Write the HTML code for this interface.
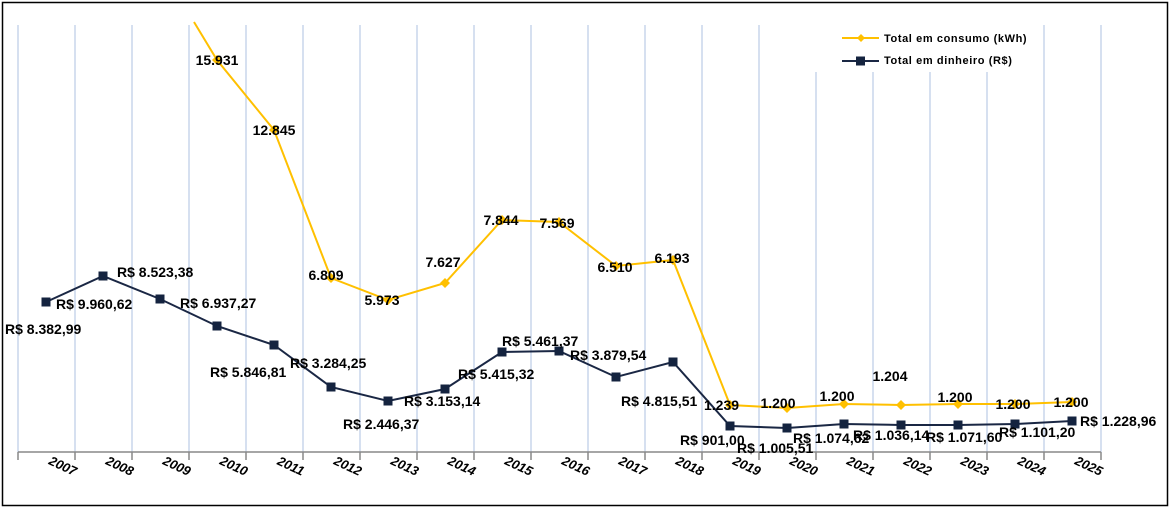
<!DOCTYPE html>
<html><head><meta charset="utf-8"><style>
html,body{margin:0;padding:0;background:#fff;}
svg{display:block;font-family:"Liberation Sans",sans-serif;font-weight:bold;}
</style></head><body>
<svg width="1170" height="509" viewBox="0 0 1170 509" xmlns="http://www.w3.org/2000/svg">
<rect x="2.5" y="2.5" width="1165" height="503" fill="#fff" stroke="#000" stroke-width="1.5"/>
<g stroke="#c9d5ec" stroke-width="1.5">
<line x1="18" y1="25" x2="18" y2="452"/><line x1="75" y1="25" x2="75" y2="452"/><line x1="132" y1="25" x2="132" y2="452"/><line x1="189" y1="25" x2="189" y2="452"/><line x1="246" y1="25" x2="246" y2="452"/><line x1="303" y1="25" x2="303" y2="452"/><line x1="360" y1="25" x2="360" y2="452"/><line x1="417" y1="25" x2="417" y2="452"/><line x1="474" y1="25" x2="474" y2="452"/><line x1="531" y1="25" x2="531" y2="452"/><line x1="588" y1="25" x2="588" y2="452"/><line x1="645" y1="25" x2="645" y2="452"/><line x1="702" y1="25" x2="702" y2="452"/><line x1="759" y1="25" x2="759" y2="452"/><line x1="816" y1="72" x2="816" y2="452"/><line x1="873" y1="72" x2="873" y2="452"/><line x1="930" y1="72" x2="930" y2="452"/><line x1="987" y1="72" x2="987" y2="452"/><line x1="1044" y1="25" x2="1044" y2="452"/><line x1="1101" y1="25" x2="1101" y2="452"/>
</g>
<g stroke="#888" stroke-width="1.5">
<line x1="18" y1="452" x2="1101" y2="452"/>
<line x1="18" y1="452" x2="18" y2="460"/><line x1="75" y1="452" x2="75" y2="460"/><line x1="132" y1="452" x2="132" y2="460"/><line x1="189" y1="452" x2="189" y2="460"/><line x1="246" y1="452" x2="246" y2="460"/><line x1="303" y1="452" x2="303" y2="460"/><line x1="360" y1="452" x2="360" y2="460"/><line x1="417" y1="452" x2="417" y2="460"/><line x1="474" y1="452" x2="474" y2="460"/><line x1="531" y1="452" x2="531" y2="460"/><line x1="588" y1="452" x2="588" y2="460"/><line x1="645" y1="452" x2="645" y2="460"/><line x1="702" y1="452" x2="702" y2="460"/><line x1="759" y1="452" x2="759" y2="460"/><line x1="816" y1="452" x2="816" y2="460"/><line x1="873" y1="452" x2="873" y2="460"/><line x1="930" y1="452" x2="930" y2="460"/><line x1="987" y1="452" x2="987" y2="460"/><line x1="1044" y1="452" x2="1044" y2="460"/><line x1="1101" y1="452" x2="1101" y2="460"/>
</g>
<g font-size="13" font-style="italic" fill="#000" text-anchor="middle">
<text transform="translate(61,470) rotate(25)">2007</text><text transform="translate(118,470) rotate(25)">2008</text><text transform="translate(175,470) rotate(25)">2009</text><text transform="translate(232,470) rotate(25)">2010</text><text transform="translate(289,470) rotate(25)">2011</text><text transform="translate(346,470) rotate(25)">2012</text><text transform="translate(403,470) rotate(25)">2013</text><text transform="translate(460,470) rotate(25)">2014</text><text transform="translate(517,470) rotate(25)">2015</text><text transform="translate(574,470) rotate(25)">2016</text><text transform="translate(631,470) rotate(25)">2017</text><text transform="translate(688,470) rotate(25)">2018</text><text transform="translate(745,470) rotate(25)">2019</text><text transform="translate(802,470) rotate(25)">2020</text><text transform="translate(859,470) rotate(25)">2021</text><text transform="translate(916,470) rotate(25)">2022</text><text transform="translate(973,470) rotate(25)">2023</text><text transform="translate(1030,470) rotate(25)">2024</text><text transform="translate(1087,470) rotate(25)">2025</text>
</g>
<polyline fill="none" stroke="#FFC000" stroke-width="2" points="194,22 217,60 274,130 331,278 388,300 445,283 502,220 559,222 616,266 673,260 730,405 787,408 844,404 901,405 958,404 1015,404 1072,402"/>
<g fill="#FFC000">
<path d="M217,55 l5,5 -5,5 -5,-5z"/><path d="M274,125 l5,5 -5,5 -5,-5z"/><path d="M331,273 l5,5 -5,5 -5,-5z"/><path d="M388,295 l5,5 -5,5 -5,-5z"/><path d="M445,278 l5,5 -5,5 -5,-5z"/><path d="M502,215 l5,5 -5,5 -5,-5z"/><path d="M559,217 l5,5 -5,5 -5,-5z"/><path d="M616,261 l5,5 -5,5 -5,-5z"/><path d="M673,255 l5,5 -5,5 -5,-5z"/><path d="M730,400 l5,5 -5,5 -5,-5z"/><path d="M787,403 l5,5 -5,5 -5,-5z"/><path d="M844,399 l5,5 -5,5 -5,-5z"/><path d="M901,400 l5,5 -5,5 -5,-5z"/><path d="M958,399 l5,5 -5,5 -5,-5z"/><path d="M1015,399 l5,5 -5,5 -5,-5z"/><path d="M1072,397 l5,5 -5,5 -5,-5z"/>
</g>
<polyline fill="none" stroke="#1a2744" stroke-width="2" points="46,302 103,276 160,299 217,326 274,345 331,387 388,401 445,389 502,352 559,351 616,377 673,362 730,426 787,428 844,424 901,425 958,425 1015,424 1072,421"/>
<g fill="#14233f">
<rect x="41.5" y="297.5" width="9" height="9"/><rect x="98.5" y="271.5" width="9" height="9"/><rect x="155.5" y="294.5" width="9" height="9"/><rect x="212.5" y="321.5" width="9" height="9"/><rect x="269.5" y="340.5" width="9" height="9"/><rect x="326.5" y="382.5" width="9" height="9"/><rect x="383.5" y="396.5" width="9" height="9"/><rect x="440.5" y="384.5" width="9" height="9"/><rect x="497.5" y="347.5" width="9" height="9"/><rect x="554.5" y="346.5" width="9" height="9"/><rect x="611.5" y="372.5" width="9" height="9"/><rect x="668.5" y="357.5" width="9" height="9"/><rect x="725.5" y="421.5" width="9" height="9"/><rect x="782.5" y="423.5" width="9" height="9"/><rect x="839.5" y="419.5" width="9" height="9"/><rect x="896.5" y="420.5" width="9" height="9"/><rect x="953.5" y="420.5" width="9" height="9"/><rect x="1010.5" y="419.5" width="9" height="9"/><rect x="1067.5" y="416.5" width="9" height="9"/>
</g>
<g font-size="14" fill="#000" text-anchor="middle" dominant-baseline="central">
<text x="217" y="60">15.931</text><text x="274" y="130">12.845</text><text x="326" y="275">6.809</text><text x="382" y="300">5.973</text><text x="443" y="262">7.627</text><text x="501" y="220">7.844</text><text x="557" y="223">7.569</text><text x="615" y="267">6.510</text><text x="672" y="258">6.193</text><text x="778" y="403">1.200</text><text x="837" y="396">1.200</text><text x="890" y="376">1.204</text><text x="955" y="397">1.200</text><text x="1013" y="404">1.200</text><text x="1071" y="402">1.200</text>
</g>
<g font-size="14" fill="#000" dominant-baseline="central">
<text x="5" y="329">R$ 8.382,99</text><text x="56" y="304">R$ 9.960,62</text><text x="117" y="272">R$ 8.523,38</text><text x="180" y="303">R$ 6.937,27</text><text x="210" y="372">R$ 5.846,81</text><text x="290" y="363">R$ 3.284,25</text><text x="343" y="424">R$ 2.446,37</text><text x="404" y="401">R$ 3.153,14</text><text x="458" y="374">R$ 5.415,32</text><text x="502" y="341">R$ 5.461,37</text><text x="570" y="355">R$ 3.879,54</text><text x="621" y="401">R$ 4.815,51</text><text x="704" y="405">1.239</text><text x="680" y="440">R$ 901,00</text><text x="737" y="448">R$ 1.005,51</text><text x="793" y="438">R$ 1.074,62</text><text x="853" y="435">R$ 1.036,14</text><text x="926" y="437">R$ 1.071,60</text><text x="999" y="432">R$ 1.101,20</text><text x="1080" y="421">R$ 1.228,96</text>
</g>
<line x1="842" y1="38" x2="879" y2="38" stroke="#FFC000" stroke-width="2"/>
<path d="M861,34 l4,4 -4,4 -4,-4z" fill="#FFC000"/>
<line x1="842" y1="61" x2="879" y2="61" stroke="#1a2744" stroke-width="2"/>
<rect x="856" y="56.5" width="9" height="9" fill="#14233f"/>
<g font-size="11" fill="#000" letter-spacing="0.6" dominant-baseline="central">
<text x="884" y="39">Total em consumo (kWh)</text>
<text x="884" y="61">Total em dinheiro (R$)</text>
</g>
</svg>
</body></html>
